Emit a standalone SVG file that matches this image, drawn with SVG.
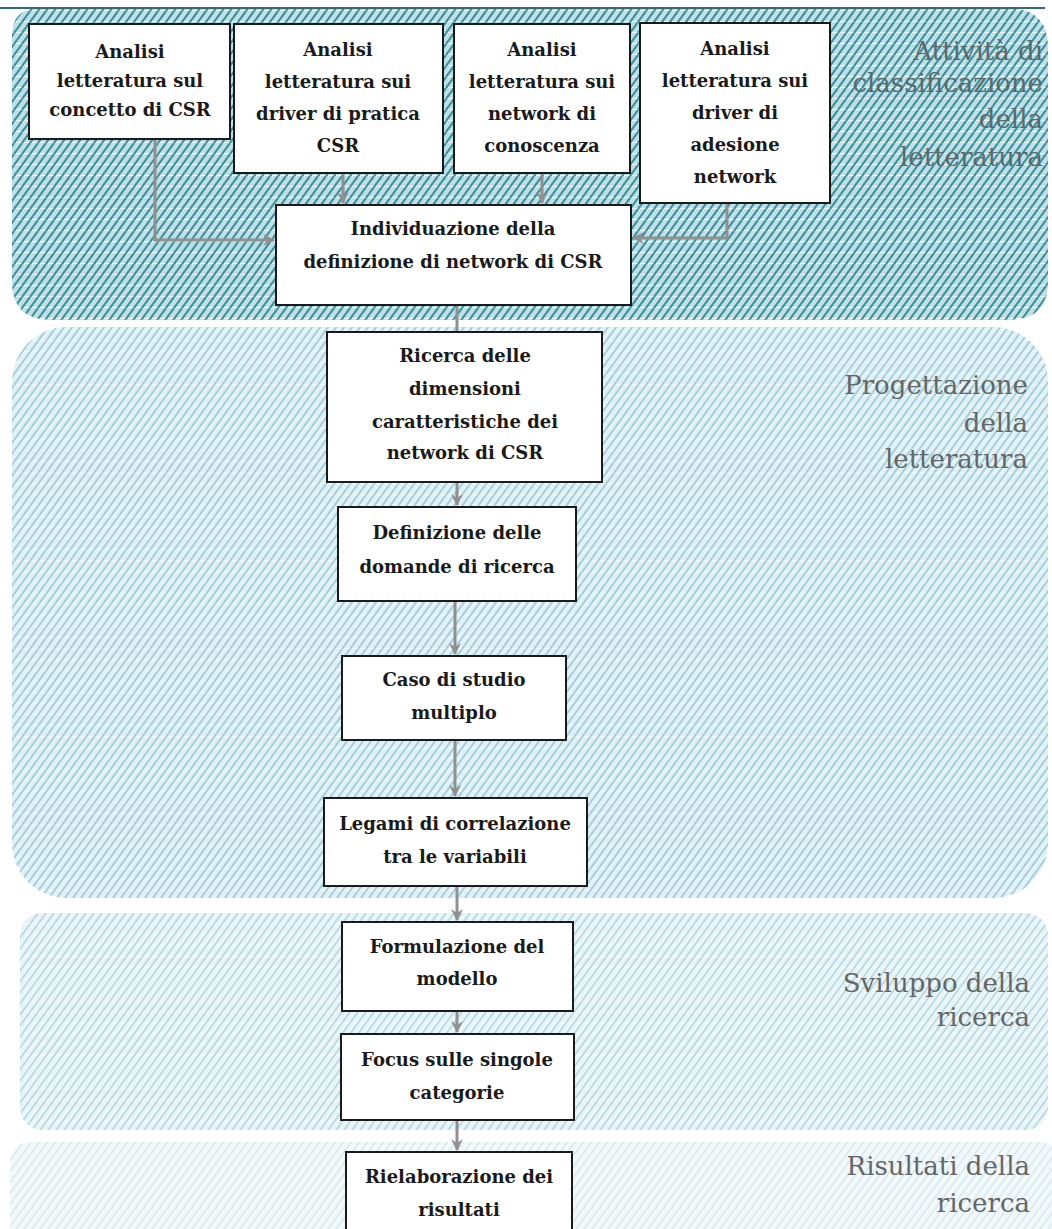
<svg xmlns="http://www.w3.org/2000/svg" width="1052" height="1229" viewBox="0 0 1052 1229">
<style>
.box{fill:#ffffff;stroke:#1a1a1a;stroke-width:2}
.t{font-family:"DejaVu Serif","Liberation Serif",serif;font-weight:bold;font-size:18px;fill:#1a1a1a;text-anchor:middle}
.lbl{font-family:"DejaVu Serif","Liberation Serif",serif;font-size:26px;fill:#666666;text-anchor:end}
.lbl1{fill:#5a6a6d}
.con{fill:none;stroke:#909090;stroke-width:3}
</style>
<defs>
<pattern id="h1" width="8" height="11" patternUnits="userSpaceOnUse">
<rect width="8" height="11" fill="#bfe0e6"/>
<path d="M-2,11 L6,0 M6,11 L14,0" stroke="#3f919e" stroke-width="2.2"/>
<path d="M0,10.5 H5" stroke="#eef8fa" stroke-width="1"/>
</pattern>
<pattern id="h2" width="8" height="11" patternUnits="userSpaceOnUse">
<rect width="8" height="11" fill="#e2f1f5"/>
<path d="M-2,11 L6,0 M6,11 L14,0" stroke="#a3d0dc" stroke-width="2"/>
<path d="M0,10.5 H5" stroke="#f4fafc" stroke-width="1"/>
</pattern>
<pattern id="h3" width="8" height="11" patternUnits="userSpaceOnUse">
<rect width="8" height="11" fill="#e9f4f7"/>
<path d="M-2,11 L6,0 M6,11 L14,0" stroke="#b6dae3" stroke-width="1.8"/>
<path d="M0,10.5 H5" stroke="#f6fbfc" stroke-width="1"/>
</pattern>
<pattern id="h4" width="8" height="11" patternUnits="userSpaceOnUse">
<rect width="8" height="11" fill="#f3f9fb"/>
<path d="M-2,11 L6,0 M6,11 L14,0" stroke="#d8ebf0" stroke-width="1.8"/>
</pattern>
<marker id="ar" markerWidth="14" markerHeight="14" refX="11" refY="7" orient="auto" markerUnits="userSpaceOnUse">
<path d="M0,1 L12,7 L0,13 L4,7 z" fill="#909090"/>
</marker>
</defs>

<g id="regions">
<path id="region-1" d="M12,8 H1008 Q1048,8 1048,48 V282 Q1048,320 1008,320 H52 Q12,320 12,282 V36 Q12,8 40,8 Z" fill="url(#h1)"/>
<line x1="0" y1="8" x2="1045" y2="8" stroke="#2e6e78" stroke-width="2"/>
<rect id="region-2" x="12" y="327" width="1036" height="571" rx="55" fill="url(#h2)"/>
<rect id="region-3" x="20" y="913" width="1028" height="217" rx="22" fill="url(#h3)"/>
<rect id="region-4" x="10" y="1142" width="1050" height="100" rx="20" fill="url(#h4)"/>
</g>

<g id="labels">
<text class="lbl lbl1" x="1043" y="60">Attività di</text>
<text class="lbl lbl1" x="1043" y="92">classificazione</text>
<text class="lbl lbl1" x="1043" y="128">della</text>
<text class="lbl lbl1" x="1043" y="166">letteratura</text>
<text class="lbl" x="1028" y="394">Progettazione</text>
<text class="lbl" x="1028" y="432">della</text>
<text class="lbl" x="1028" y="468">letteratura</text>
<text class="lbl" x="1030" y="992">Sviluppo della</text>
<text class="lbl" x="1030" y="1026">ricerca</text>
<text class="lbl" x="1030" y="1175">Risultati della</text>
<text class="lbl" x="1030" y="1212">ricerca</text>
</g>

<g id="connectors">
<path class="con" d="M155,139 V240 H274" marker-end="url(#ar)"/>
<path class="con" d="M343,173 V203" marker-end="url(#ar)"/>
<path class="con" d="M542,173 V203" marker-end="url(#ar)"/>
<path class="con" d="M727,203 V238 H633" marker-end="url(#ar)"/>
<path class="con" d="M457,305 V332"/>
<path class="con" d="M457,482 V505" marker-end="url(#ar)"/>
<path class="con" d="M455,601 V654" marker-end="url(#ar)"/>
<path class="con" d="M455,740 V796" marker-end="url(#ar)"/>
<path class="con" d="M457,886 V920" marker-end="url(#ar)"/>
<path class="con" d="M457,1011 V1032" marker-end="url(#ar)"/>
<path class="con" d="M457,1120 V1150" marker-end="url(#ar)"/>
</g>

<g id="node-1">
<rect class="box" x="29" y="24" width="201" height="115"/>
<text class="t" x="130" y="58">Analisi</text>
<text class="t" x="130" y="87">letteratura sul</text>
<text class="t" x="130" y="116">concetto di CSR</text>
</g>
<g id="node-2">
<rect class="box" x="234" y="24" width="209" height="149"/>
<text class="t" x="338" y="56">Analisi</text>
<text class="t" x="338" y="88">letteratura sui</text>
<text class="t" x="338" y="120">driver di pratica</text>
<text class="t" x="338" y="152">CSR</text>
</g>
<g id="node-3">
<rect class="box" x="454" y="24" width="176" height="149"/>
<text class="t" x="542" y="56">Analisi</text>
<text class="t" x="542" y="88">letteratura sui</text>
<text class="t" x="542" y="120">network di</text>
<text class="t" x="542" y="152">conoscenza</text>
</g>
<g id="node-4">
<rect class="box" x="640" y="23" width="190" height="180"/>
<text class="t" x="735" y="55">Analisi</text>
<text class="t" x="735" y="87">letteratura sui</text>
<text class="t" x="735" y="119">driver di</text>
<text class="t" x="735" y="151">adesione</text>
<text class="t" x="735" y="183">network</text>
</g>
<g id="node-5">
<rect class="box" x="276" y="205" width="355" height="100"/>
<text class="t" x="453" y="235">Individuazione della</text>
<text class="t" x="453" y="268">definizione di network di CSR</text>
</g>
<g id="node-6">
<rect class="box" x="327" y="332" width="275" height="150"/>
<text class="t" x="465" y="362">Ricerca delle</text>
<text class="t" x="465" y="395">dimensioni</text>
<text class="t" x="465" y="428">caratteristiche dei</text>
<text class="t" x="465" y="459">network di CSR</text>
</g>
<g id="node-7">
<rect class="box" x="338" y="507" width="238" height="94"/>
<text class="t" x="457" y="539">Definizione delle</text>
<text class="t" x="457" y="573">domande di ricerca</text>
</g>
<g id="node-8">
<rect class="box" x="342" y="656" width="224" height="84"/>
<text class="t" x="454" y="686">Caso di studio</text>
<text class="t" x="454" y="719">multiplo</text>
</g>
<g id="node-9">
<rect class="box" x="324" y="798" width="263" height="88"/>
<text class="t" x="455" y="830">Legami di correlazione</text>
<text class="t" x="455" y="863">tra le variabili</text>
</g>
<g id="node-10">
<rect class="box" x="342" y="922" width="231" height="89"/>
<text class="t" x="457" y="953">Formulazione del</text>
<text class="t" x="457" y="985">modello</text>
</g>
<g id="node-11">
<rect class="box" x="341" y="1034" width="233" height="86"/>
<text class="t" x="457" y="1066">Focus sulle singole</text>
<text class="t" x="457" y="1099">categorie</text>
</g>
<g id="node-12">
<rect class="box" x="346" y="1152" width="226" height="90"/>
<text class="t" x="459" y="1183">Rielaborazione dei</text>
<text class="t" x="459" y="1216">risultati</text>
</g>
</svg>
